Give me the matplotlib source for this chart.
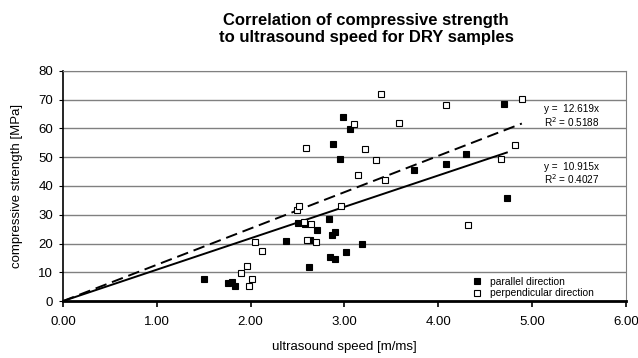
import numpy as np
import matplotlib
matplotlib.use("Agg")
import matplotlib.pyplot as plt

plt.rcParams["font.family"] = ["Liberation Sans", "DejaVu Sans"]

# ── data ─────────────────────────────────────────
par_speed = [1.50, 1.76, 1.80, 1.83, 2.38, 2.50, 2.58, 2.63, 2.62, 2.71, 2.83, 2.87, 2.90,
             2.85, 2.90, 3.02, 3.19, 2.88, 2.95, 2.98, 3.06, 3.74, 4.08, 4.30, 4.70, 4.73]
par_strength = [7.6, 6.2, 6.7, 5.3, 20.9, 27.0, 26.8, 21.2, 11.7, 24.6, 28.5, 23.1, 24.0,
                15.4, 14.7, 16.9, 19.9, 54.7, 49.4, 64.0, 59.9, 45.4, 47.8, 51.1, 68.5, 35.9]

perp_speed = [1.90, 1.96, 1.98, 2.01, 2.05, 2.12, 2.49, 2.515, 2.57, 2.64, 2.60, 2.70, 2.59,
              2.96, 3.10, 3.14, 3.22, 3.34, 3.39, 3.43, 3.58, 4.08, 4.89, 4.82, 4.67, 4.32]
perp_strength = [9.7, 12.3, 5.4, 7.7, 20.4, 17.5, 31.8, 33.2, 27.6, 26.7, 21.4, 20.5, 53.1,
                 33.2, 61.6, 43.7, 53.0, 49.0, 71.8, 42.1, 62.0, 68.2, 70.3, 54.3, 49.3, 26.6]

par_slope, par_r2 = 10.915, 0.4027
perp_slope, perp_r2 = 12.619, 0.5188

x_ticks = [0, 1, 2, 3, 4, 5, 6]
y_ticks = [0, 10, 20, 30, 40, 50, 60, 70, 80]

# ── figure ───────────────────────────────────────
fig = plt.figure(figsize=(6.38, 3.58), dpi=100, facecolor="white")
ax = fig.add_axes([0.0987, 0.159, 0.8825, 0.643])

for y in y_ticks[1:]:
    ax.axhline(y, color="#808080", linewidth=1.0, zorder=1)

# trend lines through origin, up to the largest speed of each series
xp = np.array([0, max(perp_speed)])
ax.plot(xp, perp_slope * xp, color="black", linewidth=1.4, linestyle=(0, (6, 3)), zorder=2)
xq = np.array([0, max(par_speed)])
ax.plot(xq, par_slope * xq, color="black", linewidth=1.4, zorder=2)

ax.plot(par_speed, par_strength, "s", ms=4.3, mfc="black", mec="black", mew=0.8,
        linestyle="none", zorder=3, label="parallel direction")
ax.plot(perp_speed, perp_strength, "s", ms=4.3, mfc="white", mec="black", mew=0.8,
        linestyle="none", zorder=3, label="perpendicular direction")

ax.text(5.13, 64.2, f"y =  {perp_slope:.3f}x\nR$^2$ = {perp_r2:.4f}", fontsize=7.2,
        va="center", ha="left", linespacing=1.05)
ax.text(5.13, 44.2, f"y =  {par_slope:.3f}x\nR$^2$ = {par_r2:.4f}", fontsize=7.2,
        va="center", ha="left", linespacing=1.05)

ax.set_xlim(0, 6)
ax.set_ylim(0, 80)
ax.set_xticks(x_ticks)
ax.set_xticklabels([f"{v:.2f}" for v in x_ticks], fontsize=9.5)
ax.set_yticks(y_ticks)
ax.set_yticklabels([str(v) for v in y_ticks], fontsize=9.5)
ax.tick_params(axis="x", direction="out", length=4, width=1.2, pad=7)
ax.tick_params(axis="y", direction="out", length=3, width=0.8, pad=4)

ax.spines["left"].set_color("black")
ax.spines["left"].set_linewidth(1.2)
ax.spines["bottom"].set_color("black")
ax.spines["bottom"].set_linewidth(2.0)
ax.spines["top"].set_color("#808080")
ax.spines["right"].set_color("#808080")

ax.set_xlabel("ultrasound speed [m/ms]", fontsize=9.5, labelpad=9)
ax.set_ylabel("compressive strength [MPa]", fontsize=9.5, labelpad=11)

ax.legend(loc="lower left", frameon=False, fontsize=7.4, handletextpad=0.8,
          borderaxespad=0, labelspacing=0.15, handlelength=1.0, markerscale=0.85,
          bbox_to_anchor=(0.719, -0.005))

fig.text(0.574, 0.965, "Correlation of compressive strength\nto ultrasound speed for DRY samples",
         ha="center", va="top", fontsize=12, fontweight="bold", linespacing=1.2)

fig.savefig("out.png", dpi=100, facecolor="white")
